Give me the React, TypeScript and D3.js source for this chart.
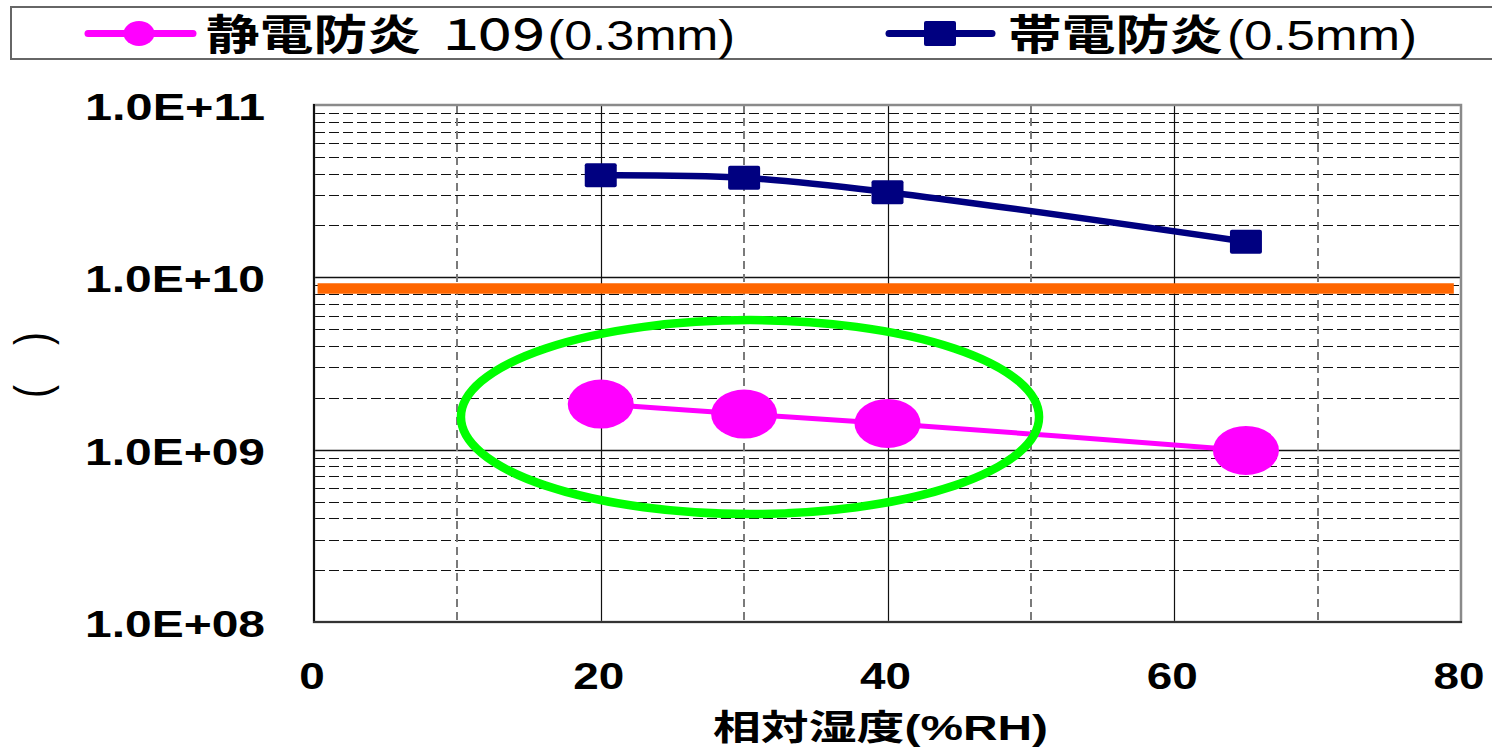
import React from 'react';
import * as d3 from 'd3';

// ---- data ----
const humidity = [20, 30, 40, 65];
const series109 = [1.84e9, 1.61e9, 1.42e9, 0.99e9];
const seriesTaiden = [3.91e10, 3.78e10, 3.12e10, 1.61e10];
const thresholdX = [0.25, 79.5];
const thresholdY = 8.6e9;
const xTicks = [0, 20, 40, 60, 80];
const xMinorTicks = [10, 30, 50, 70];
const yTicks = [1e8, 1e9, 1e10, 1e11];
const yTickLabels = ['1.0E+08', '1.0E+09', '1.0E+10', '1.0E+11'];
const legendNames = ['静電防炎', '帯電防炎'];
const legendSuffix = ['１０９', '(0.3mm)', '(0.5mm)'];
const xTitle = '相対湿度(%RH)';
const yTitle = '(\u00A0\u00A0\u00A0)';
const highlightX = [10.25, 50.57];
const highlightY = [4.23e8, 5.65e9];

const W = 1492;
const H = 749;
const LATIN = '"Liberation Sans", Arial, "Noto Sans CJK JP", sans-serif';
const MAGENTA = '#FF00FF';
const NAVY = '#000080';
const ORANGE = '#FF6600';
const GREEN = '#00FF00';

const snap = (v: number) => Math.round(v) + 0.5;

export default function App() {
  const x = d3.scaleLinear().domain([0, 80]).range([314, 1461]);
  const y = d3.scaleLog().domain([1e8, 1e11]).range([622, 105]);

  const minorY: number[] = [];
  [1e8, 1e9, 1e10].forEach((d) => {
    for (let k = 2; k <= 9; k++) minorY.push(d * k);
  });

  const line = d3
    .line<[number, number]>()
    .x((d) => x(d[0]))
    .y((d) => y(d[1]))
    .curve(d3.curveCatmullRom.alpha(0.5));

  const taidenPts = humidity.map((h, i) => [h, seriesTaiden[i]] as [number, number]);
  const p109Pts = humidity.map((h, i) => [h, series109[i]] as [number, number]);

  const ex0 = x(highlightX[0]);
  const ex1 = x(highlightX[1]);
  const ey0 = y(highlightY[1]);
  const ey1 = y(highlightY[0]);

  return (
    <svg
      width={W}
      height={H}
      style={{ position: 'fixed', left: 0, top: 0, background: '#fff' }}
      xmlns="http://www.w3.org/2000/svg"
    >
      <rect x={0} y={0} width={W} height={H} fill="#fff" />

      {/* legend */}
      <rect x={11} y={7} width={1490} height={52} fill="#fff" stroke="#666" strokeWidth={2} />
      <line x1={88} x2={193} y1={33.5} y2={33.5} stroke={MAGENTA} strokeWidth={7} strokeLinecap="round" />
      <ellipse cx={139} cy={33.5} rx={15.5} ry={12.5} fill={MAGENTA} />
      <text x={206} y={50} fontFamily={LATIN} fontWeight={700} fontSize={42} textLength={215} lengthAdjust="spacingAndGlyphs">
        {legendNames[0]}
      </text>
      <g transform="translate(436,50) scale(1.2,1)">
        <text x={0} y={0} fontFamily={LATIN} fontWeight={400} fontSize={42}>
          <tspan letterSpacing={-14} fontWeight={500}>{legendSuffix[0]}</tspan>
          <tspan dx={9}>{legendSuffix[1]}</tspan>
        </text>
      </g>
      <line x1={889} x2={992} y1={33.5} y2={33.5} stroke={NAVY} strokeWidth={7} strokeLinecap="round" />
      <rect x={924} y={21} width={32} height={25} rx={2} fill={NAVY} />
      <text x={1008} y={50} fontFamily={LATIN} fontWeight={700} fontSize={42} textLength={215} lengthAdjust="spacingAndGlyphs">
        {legendNames[1]}
      </text>
      <text x={1227} y={50} fontFamily={LATIN} fontWeight={400} fontSize={42} textLength={190} lengthAdjust="spacingAndGlyphs">
        {legendSuffix[2]}
      </text>

      {/* minor horizontal grid */}
      {minorY.map((v) => (
        <line key={'my' + v} x1={315} x2={1460} y1={snap(y(v))} y2={snap(y(v))} stroke="#111" strokeWidth={1} strokeDasharray="10,4" />
      ))}
      {/* major horizontal grid */}
      {yTicks.slice(1, 3).map((v) => (
        <line key={'My' + v} x1={314} x2={1461} y1={snap(y(v))} y2={snap(y(v))} stroke="#111" strokeWidth={1.5} />
      ))}
      {/* minor vertical grid */}
      {xMinorTicks.map((v) => (
        <line key={'mx' + v} x1={Math.round(x(v))} x2={Math.round(x(v))} y1={105} y2={622} stroke="#7a7a7a" strokeWidth={2} strokeDasharray="8,5" />
      ))}
      {/* major vertical grid */}
      {xTicks.slice(1, 4).map((v) => (
        <line key={'Mx' + v} x1={snap(x(v))} x2={snap(x(v))} y1={105} y2={622} stroke="#111" strokeWidth={1.2} />
      ))}

      {/* frame */}
      <rect x={314} y={105} width={1147} height={517} fill="none" stroke="#8a8a8a" strokeWidth={2.5} />
      <line x1={314} x2={314} y1={104} y2={623} stroke="#111" strokeWidth={2} />
      <line x1={313} x2={1462} y1={622} y2={622} stroke="#333" strokeWidth={2} />

      {/* threshold line */}
      <line
        x1={x(thresholdX[0])}
        x2={x(thresholdX[1])}
        y1={y(thresholdY)}
        y2={y(thresholdY)}
        stroke={ORANGE}
        strokeWidth={10.5}
      />

      {/* navy series */}
      <path d={line(taidenPts) || ''} fill="none" stroke={NAVY} strokeWidth={6.5} />
      {taidenPts.map((p, i) => (
        <rect key={'t' + i} x={x(p[0]) - 16} y={y(p[1]) - 12} width={32} height={24} rx={2} fill={NAVY} />
      ))}

      {/* magenta series */}
      <path d={line(p109Pts) || ''} fill="none" stroke={MAGENTA} strokeWidth={5} />
      {p109Pts.map((p, i) => (
        <ellipse key={'m' + i} cx={x(p[0])} cy={y(p[1])} rx={33} ry={24.5} fill={MAGENTA} />
      ))}

      {/* highlight ellipse */}
      <ellipse
        cx={(ex0 + ex1) / 2}
        cy={(ey0 + ey1) / 2}
        rx={(ex1 - ex0) / 2}
        ry={(ey1 - ey0) / 2}
        fill="none"
        stroke={GREEN}
        strokeWidth={8.5}
      />

      {/* y tick labels */}
      {yTicks.map((v, i) => (
        <text
          key={'yl' + v}
          x={85}
          y={y(v) + 15}
          fontFamily={LATIN}
          fontWeight={700}
          fontSize={36}
          textLength={180}
          lengthAdjust="spacingAndGlyphs"
        >
          {yTickLabels[i]}
        </text>
      ))}

      {/* x tick labels */}
      {xTicks.map((v) => {
        const s = String(v);
        const len = s.length * 25.5;
        return (
          <text
            key={'xl' + v}
            x={x(v) - 2 - len / 2}
            y={689}
            fontFamily={LATIN}
            fontWeight={700}
            fontSize={37}
            textLength={len}
            lengthAdjust="spacingAndGlyphs"
          >
            {s}
          </text>
        );
      })}

      {/* x title */}
      <text x={713} y={740} fontFamily={LATIN} fontWeight={700} fontSize={35} textLength={335} lengthAdjust="spacingAndGlyphs">
        {xTitle}
      </text>

      {/* y title */}
      <g transform="translate(49,365) scale(1.3,1) rotate(-90)">
        <text x={0} y={0} textAnchor="middle" fontFamily={LATIN} fontWeight={400} fontSize={39} textLength={66} lengthAdjust="spacing">
          {yTitle}
        </text>
      </g>
    </svg>
  );
}
